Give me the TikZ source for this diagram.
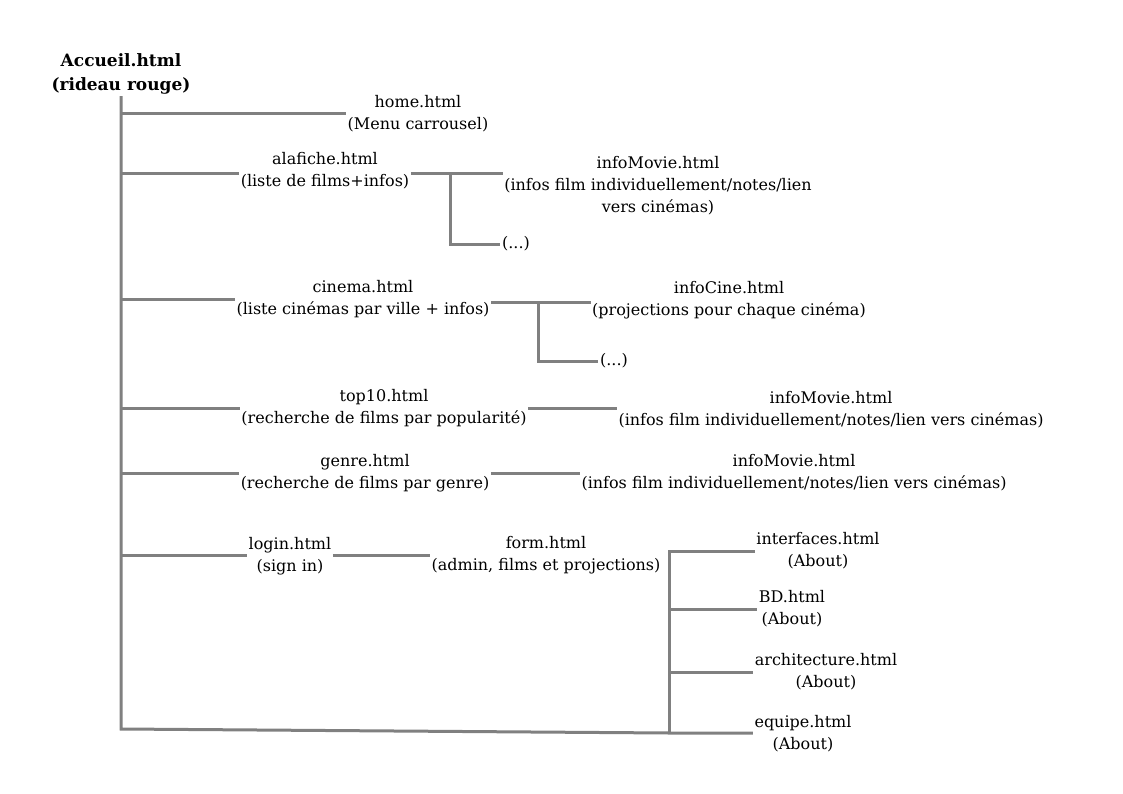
\documentclass[tikz,border=0pt]{standalone}
\usepackage{fontspec}
\setmainfont{DejaVu Serif}
\definecolor{linegray}{RGB}{128,128,128}
\tikzset{
  branch/.style={draw=linegray, line width=3pt},
  page/.style={align=center, inner sep=1.5pt, font=\fontsize{16}{22}\selectfont},
  root/.style={page, font=\fontsize{17}{24}\selectfont\bfseries}
}
\begin{document}
\begin{tikzpicture}[x=1pt,y=-1pt]
\useasboundingbox (0,0) rectangle (1123,794);

\node(accueil)[root] at (121,74) {Accueil.html\\(rideau rouge)};

\node(home)[page] at (418,114) {home.html\\(Menu carrousel)};
\node(alafiche)[page] at (325,171) {alafiche.html\\(liste de films+infos)};
\node(movieA)[page] at (658,186) {infoMovie.html\\(infos film individuellement/notes/lien\\vers cinémas)};
\node(dotsA)[page] at (516,244) {(...)};
\node(cinema)[page] at (363,299) {cinema.html\\(liste cinémas par ville + infos)};
\node(infocine)[page] at (729,300) {infoCine.html\\(projections pour chaque cinéma)};
\node(dotsB)[page] at (614,361) {(...)};
\node(top)[page] at (384,408) {top10.html\\(recherche de films par popularité)};
\node(movieB)[page] at (831,410) {infoMovie.html\\(infos film individuellement/notes/lien vers cinémas)};
\node(genre)[page] at (365,473) {genre.html\\(recherche de films par genre)};
\node(movieC)[page] at (794,473) {infoMovie.html\\(infos film individuellement/notes/lien vers cinémas)};
\node(login)[page] at (290,556) {login.html\\(sign in)};
\node(form)[page] at (546,555) {form.html\\(admin, films et projections)};
\node(interfaces)[page] at (818,551) {interfaces.html\\(About)};
\node(bd)[page] at (792,609) {BD.html\\(About)};
\node(archi)[page] at (826,672) {architecture.html\\(About)};
\node(equipe)[page] at (803,734) {equipe.html\\(About)};

\coordinate(corner) at (121,729);
\coordinate(fork) at (669,733);
\coordinate(splitA) at (450,174);
\coordinate(splitB) at (538,302);

% trunk
\draw[branch] (accueil.south) -- (corner) -- (fork) -- (fork -| equipe.west);
\draw[branch] (corner |- home) -- (home.west);
\draw[branch] (corner |- splitA) -- (splitA -| alafiche.west);
\draw[branch] (corner |- cinema) -- (cinema.west);
\draw[branch] (corner |- top) -- (top.west);
\draw[branch] (corner |- genre) -- (genre.west);
\draw[branch] (corner |- form) -- (form -| login.west);

% second level
\draw[branch] (splitA -| alafiche.east) -- (splitA -| movieA.west);
\draw[branch] (splitA) |- (dotsA.west);
\draw[branch] (splitB -| cinema.east) -- (splitB -| infocine.west);
\draw[branch] (splitB) |- (dotsB.west);
\draw[branch] (top.east) -- (top -| movieB.west);
\draw[branch] (genre.east) -- (genre -| movieC.west);
\draw[branch] (form -| login.east) -- (form.west);

% about pages
\draw[branch] (fork) -- (fork |- interfaces) -- (interfaces.west);
\draw[branch] (fork |- bd) -- (bd.west);
\draw[branch] (fork |- archi) -- (archi.west);
\end{tikzpicture}
\end{document}
